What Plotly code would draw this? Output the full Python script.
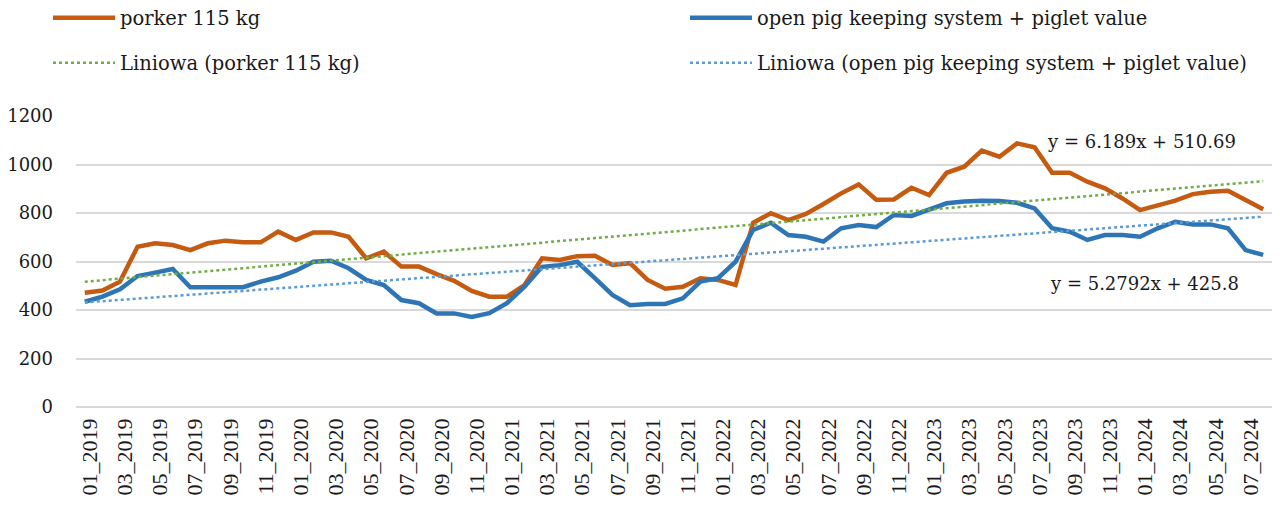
import plotly.graph_objects as go

years = [2019, 2020, 2021, 2022, 2023, 2024]
months = ["01", "02", "03", "04", "05", "06", "07", "08", "09", "10", "11", "12"]
categories = [f"{m}_{y}" for y in years for m in months][:68]

porker = [471, 480, 517, 661, 675, 668, 647, 675, 686, 679, 679, 723,
          689, 720, 720, 702, 613, 641, 579, 579, 548, 520, 479, 455,
          455, 503, 613, 606, 622, 624, 586, 593, 524, 488, 496, 531,
          524, 503, 760, 799, 771, 796, 837, 881, 918, 855, 856, 904,
          874, 966, 991, 1057, 1032, 1087, 1071, 966, 966, 929, 902, 860,
          812, 833, 851, 878, 888, 892, 854, 815]

open_pig = [434, 455, 485, 540, 554, 569, 494, 492, 494, 494, 517, 535,
            562, 599, 603, 572, 524, 503, 441, 428, 386, 386, 371, 387,
            428, 496, 578, 585, 599, 531, 462, 420, 425, 425, 448, 517,
            531, 599, 730, 760, 709, 702, 682, 737, 750, 742, 792, 788,
            812, 840, 847, 851, 849, 842, 819, 737, 723, 689, 709, 709,
            702, 737, 764, 753, 753, 737, 647, 627]

# Excel linear trendline coefficients (shown on the chart)
porker_slope, porker_intercept = 6.189, 510.69
open_slope, open_intercept = 5.2792, 425.8

tick_labels = categories[::2]
y_ticks = [0, 200, 400, 600, 800, 1000, 1200]

idx = list(range(1, len(categories) + 1))
porker_trend = [porker_slope * i + porker_intercept for i in idx]
open_trend = [open_slope * i + open_intercept for i in idx]

SERIF_WIDE = "DejaVu Serif"
SERIF = "Liberation Serif"
ORANGE = "#C55A11"
BLUE = "#2E75B6"
GREEN_T = "#70AD47"
BLUE_T = "#5B9BD5"
TXT = "#1a1a1a"

fig = go.Figure()
fig.add_trace(go.Scatter(x=categories, y=porker, mode="lines", name="porker 115 kg",
                         line=dict(color=ORANGE, width=4.5), legend="legend", showlegend=True))
fig.add_trace(go.Scatter(x=categories, y=open_pig, mode="lines",
                         name="open pig keeping system + piglet value",
                         line=dict(color=BLUE, width=4.5), legend="legend2", showlegend=True))
fig.add_trace(go.Scatter(x=categories, y=porker_trend, mode="lines",
                         name="Liniowa (porker 115 kg)",
                         line=dict(color=GREEN_T, width=2.5, dash="dot"), legend="legend3",
                         showlegend=True))
fig.add_trace(go.Scatter(x=categories, y=open_trend, mode="lines",
                         name="Liniowa (open pig keeping system + piglet value)",
                         line=dict(color=BLUE_T, width=2.5, dash="dot"), legend="legend4",
                         showlegend=True))

fig.add_annotation(text=f"y = {porker_slope}x + {porker_intercept}", xref="paper", yref="y",
                   x=0.810, y=1093, xanchor="left", yanchor="middle", showarrow=False,
                   font=dict(family=SERIF_WIDE, size=18, color=TXT))
fig.add_annotation(text=f"y = {open_slope}x + {open_intercept}", xref="paper", yref="y",
                   x=0.8125, y=511, xanchor="left", yanchor="middle", showarrow=False,
                   font=dict(family=SERIF_WIDE, size=18, color=TXT))

def leg(xpx, ypx):
    return dict(orientation="h", xref="container", yref="container",
                x=xpx / 1280, y=1 - ypx / 509, xanchor="left", yanchor="middle",
                font=dict(family=SERIF_WIDE, size=19.5, color=TXT), visible=True,
                itemwidth=62, bgcolor="rgba(0,0,0,0)")

fig.update_layout(
    width=1280, height=509,
    showlegend=True,
    paper_bgcolor="white", plot_bgcolor="white",
    margin=dict(l=68, r=16, t=108, b=110),
    legend=leg(40, 10),
    legend2=leg(677, 10),
    legend3=leg(40, 55),
    legend4=leg(677, 55),
    xaxis=dict(type="category", range=[-0.5, len(categories) - 0.5],
               tickmode="array", tickvals=tick_labels, ticktext=tick_labels,
               tickangle=-90, showgrid=False, showline=False, ticks="", automargin=False,
               ticklabelstandoff=6, ticklabelshift=5,
               tickfont=dict(family=SERIF, size=22, color=TXT)),
    yaxis=dict(range=[0, 1200], tickvals=y_ticks, showgrid=True, gridcolor="#D9D9D9",
               gridwidth=1.5, zeroline=True, zerolinecolor="#D9D9D9", zerolinewidth=1.5,
               ticks="", ticklabelstandoff=22, automargin=False,
               tickfont=dict(family=SERIF_WIDE, size=18, color=TXT)),
)

fig.write_html("out.html")
